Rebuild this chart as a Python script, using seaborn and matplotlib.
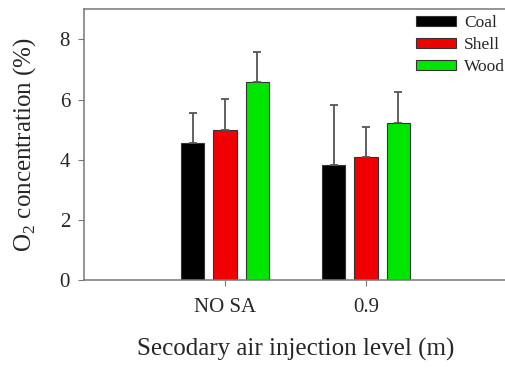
import matplotlib
matplotlib.use("Agg")
import matplotlib.pyplot as plt
import seaborn as sns
import pandas as pd
import numpy as np

levels = ["NO SA", "0.9"]
fuels = ["Coal", "Shell", "Wood"]
coal = [4.56, 3.81]
shell = [5.00, 4.08]
wood = [6.57, 5.22]
coal_err = [1.00, 2.00]
shell_err = [1.02, 1.01]
wood_err = [1.00, 1.02]
colors = ["#000000", "#f00000", "#00e600"]

rows = []
for f, vals, errs in [("Coal", coal, coal_err), ("Shell", shell, shell_err), ("Wood", wood, wood_err)]:
    for lv, v, e in zip(levels, vals, errs):
        rows.append({"level": lv, "fuel": f, "value": v, "err": e})
df = pd.DataFrame(rows)

sns.set_style("white")
plt.rcParams["font.family"] = ["Liberation Serif", "DejaVu Serif"]
plt.rcParams["mathtext.fontset"] = "custom"
plt.rcParams["mathtext.rm"] = "Liberation Serif"

fig = plt.figure(figsize=(5.06, 3.70), dpi=100)
ax = fig.add_axes([0.166, 0.243, 0.836, 0.732])

sns.barplot(data=df, x="level", y="value", hue="fuel", order=levels, hue_order=fuels,
            palette=colors, saturation=1, width=0.69, gap=0.28, errorbar=None,
            edgecolor="#333333", linewidth=0.8, ax=ax)

# error bars (upward only) at bar centres
for f, cont in zip(fuels, ax.containers):
    sub = df[df.fuel == f].set_index("level").loc[levels]
    xs = [p.get_x() + p.get_width() / 2 for p in cont.patches]
    ax.errorbar(xs, sub["value"].values, yerr=[np.zeros(len(xs)), sub["err"].values],
                fmt="none", ecolor="#555555", elinewidth=1.3, capsize=3, capthick=1.3, zorder=1)

ax.set_xlim(-1, 2)
ax.set_ylim(0, 9)
ax.set_yticks([0, 2, 4, 6, 8])
for s in ["left", "bottom", "top", "right"]:
    ax.spines[s].set_color("#777777")
    ax.spines[s].set_linewidth(1.1)
ax.tick_params(axis="both", direction="out", length=4, color="#777777", labelsize=15,
               left=True, bottom=True)
ax.tick_params(axis="y", pad=6)
ax.tick_params(axis="x", pad=9)
ax.set_xlabel("Secodary air injection level (m)", fontsize=18, va="top")
ax.xaxis.set_label_coords(0.5, -0.215)
ax.set_ylabel("O$_2$ concentration (%)", fontsize=18)
ax.yaxis.set_label_coords(-0.108, 0.5)

leg = ax.legend(loc="upper left", bbox_to_anchor=(0.785, 0.978), frameon=False, fontsize=12.5,
                handlelength=2.3, handleheight=0.5, handletextpad=0.45, labelspacing=0.35,
                borderaxespad=0, borderpad=0)
for h in leg.legend_handles:
    h.set_edgecolor("#333333")

fig.savefig("out.png", dpi=100)
